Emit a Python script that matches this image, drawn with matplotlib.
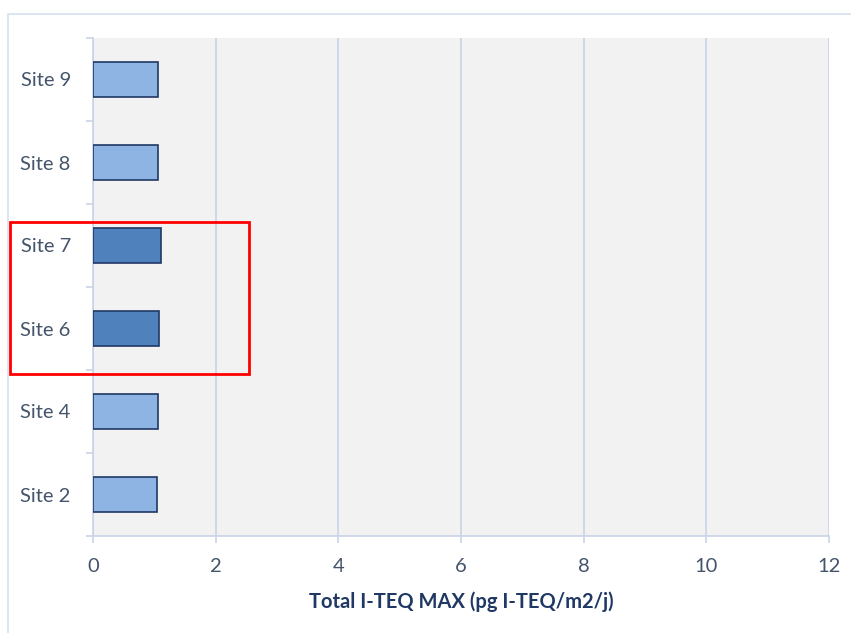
import matplotlib.pyplot as plt
from matplotlib.patches import Rectangle

sites = ['Site 2', 'Site 4', 'Site 6', 'Site 7', 'Site 8', 'Site 9']
values = [1.04, 1.06, 1.08, 1.11, 1.06, 1.06]
highlight = ['Site 6', 'Site 7']
xticks = [0, 2, 4, 6, 8, 10, 12]

plt.rcParams['font.family'] = ['Lato', 'DejaVu Sans']

W, H = 851, 633
fig = plt.figure(figsize=(W / 100, H / 100), dpi=100)
fig.patch.set_facecolor('white')

# outer chart border
fig.patches.append(Rectangle((8 / W, -0.01), 1.0, 1 - 14 / H + 0.01, transform=fig.transFigure,
                             fill=False, edgecolor='#D6E1EF', linewidth=1.2))

ax = fig.add_axes([93 / W, (H - 536) / H, 736 / W, 498 / H])
ax.set_facecolor('#F2F2F2')

colors = ['#4F81BD' if s in highlight else '#8DB4E2' for s in sites]
ax.barh(range(len(sites)), values, height=0.42, color=colors, edgecolor='#1F3864',
        linewidth=1.2, zorder=3)

ax.set_xlim(0, 12)
ax.set_ylim(-0.5, len(sites) - 0.5)
ax.set_xticks(xticks)
ax.set_yticks(range(len(sites)))
ax.set_yticklabels(sites)
ax.set_yticks([i - 0.5 for i in range(len(sites) + 1)], minor=True)
ax.grid(axis='x', color='#C9D3E8', linewidth=1.2, zorder=0)

for side in ['top', 'right']:
    ax.spines[side].set_visible(False)
ax.spines['left'].set_color('#C9D3E8')
ax.spines['bottom'].set_color('#C9D3E8')
ax.spines['left'].set_linewidth(1.2)
ax.spines['bottom'].set_linewidth(1.2)

ax.tick_params(axis='y', which='major', length=0, pad=16, labelsize=14.5, labelcolor='#44546A')
ax.tick_params(axis='y', which='minor', length=5, color='#C9D3E8', width=1.2)
ax.tick_params(axis='x', length=5, color='#C9D3E8', width=1.2, pad=11,
               labelsize=14.5, labelcolor='#44546A')

ax.set_xlabel('Total I-TEQ MAX (pg I-TEQ/m2/j)', fontsize=14.5, fontweight='bold',
              color='#1F3864', labelpad=12)

# red highlight box
fig.patches.append(Rectangle((10 / W, (H - 374) / H), 239 / W, 152 / H, transform=fig.transFigure,
                             fill=False, edgecolor='#FF0000', linewidth=2, zorder=10))

fig.savefig('out.png', dpi=100)
